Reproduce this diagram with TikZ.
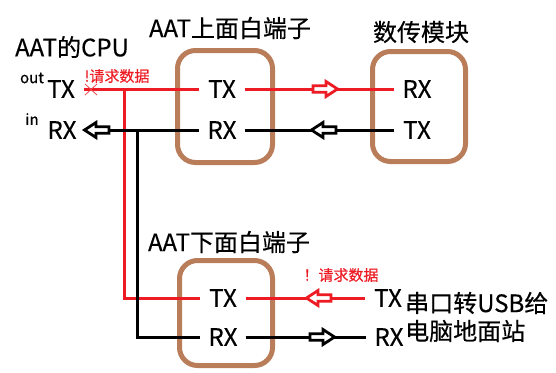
\documentclass[tikz,border=0pt]{standalone}
\usepackage{fontspec}
\setmainfont{Noto Sans CJK SC}[FakeBold=0.4]
\definecolor{brn}{HTML}{B97D5A}
\definecolor{sred}{HTML}{ED1C24}
\tikzset{
  pbox/.style={draw=brn, line width=5pt, rounded corners=18pt, inner sep=0pt},
  port/.style={inner sep=0pt, minimum width=45pt, minimum height=20pt, font=\fontsize{24}{28}\selectfont},
  big/.style={inner sep=0pt, font=\fontsize{24}{28}\selectfont},
  small/.style={inner sep=0pt, font=\fontsize{15}{18}\selectfont},
  wire/.style={line width=3pt},
  rwire/.style={wire, draw=sred},
  bwire/.style={wire, draw=black},
  harrow/.pic={\draw[line width=2.8pt, fill=white, line join=miter]
     (-12,-3.3) -- (1,-3.3) -- (1,-7.5) -- (12.5,0) -- (1,7.5) -- (1,3.3) -- (-12,3.3) -- cycle;}
}
\begin{document}
\begin{tikzpicture}[x=1pt,y=-1pt]
\useasboundingbox (0,0) rectangle (556,372);
% boxes
\node[pbox, minimum width=95pt, minimum height=112pt] (box1) at (225,106.5) {};
\node[pbox, minimum width=93pt, minimum height=110pt] (box2) at (419,106.5) {};
\node[pbox, minimum width=93pt, minimum height=105pt] (box3) at (226,313) {};
% titles
\node[big] (t0) at (72,47) {AAT的CPU};
\node[big] (t1) at (230,28) {AAT上面白端子};
\node[big] (t2) at (421,32) {数传模块};
\node[big] (t3) at (229,242) {AAT下面白端子};
\node[big, anchor=west] (t4) at (405,303) {串口转USB给};
\node[big, anchor=west] (t5) at (405,331) {电脑地面站};
% CPU ports
\node[small] (out) at (32,78) {out};
\node[small] (in) at (32,119) {in};
\node[port] (cTX) at (61,89) {TX};
\node[port] (cRX) at (62,130) {RX};
% box1 ports
\node[port] (aTX) at (222,89) {TX};
\node[port] (aRX) at (222,130) {RX};
% box2 ports
\node[port] (mRX) at (417,89) {RX};
\node[port] (mTX) at (417,130) {TX};
% box3 ports
\node[port] (bTX) at (223,298) {TX};
\node[port] (bRX) at (223,337) {RX};
% USB ports
\node[port] (uTX) at (388,298) {TX};
\node[port] (uRX) at (389,337) {RX};
% red labels
\node[small, text=sred] (l1) at (117,76) {!请求数据};
\node[small, text=sred] (l2) at (341,275) {！请求数据};
% junctions
\coordinate (rj) at (124,89);
\coordinate (bj) at (137,130);
% wires
\draw[rwire] (cTX.east) -- (aTX.west);
\draw[rwire] (aTX.east) -- (mRX.west);
\draw[rwire] (rj) |- (bTX.west);
\draw[rwire] (bTX.east) -- (uTX.west);
\draw[bwire] (cRX.east) -- (aRX.west);
\draw[bwire] (aRX.east) -- (mTX.west);
\draw[bwire] (bj) |- (bRX.west);
\draw[bwire] (bRX.east) -- (uRX.west);
% cross
\draw[sred!80, line width=0.8pt] (85,84) -- (97,95) (85,95) -- (97,84);
% arrows
\pic[draw=black, rotate=180] at (97,130) {harrow};
\pic[draw=sred] at (325,89) {harrow};
\pic[draw=black, rotate=180] at (324,130) {harrow};
\pic[draw=sred, rotate=180] at (319,298) {harrow};
\pic[draw=black] at (322,337) {harrow};
\end{tikzpicture}
\end{document}
